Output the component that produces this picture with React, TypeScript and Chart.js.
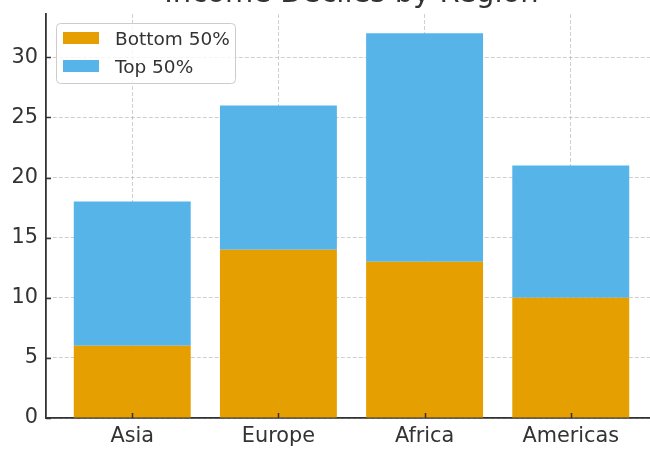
import { useEffect, useRef } from "react";
import { Chart, registerables } from "chart.js";

Chart.register(...registerables);

// Data
const regions = ["Asia", "Europe", "Africa", "Americas"];
const bottomHalf = [6, 14, 13, 10];
const topHalf = [12, 12, 19, 11];
const yTicks = [0, 5, 10, 15, 20, 25, 30];
const seriesLabels = ["Bottom 50%", "Top 50%"];
const seriesColors = ["#E69F00", "#56B4E9"];
const titleText = "Income Deciles by Region";

const FONT = "'DejaVu Sans', sans-serif";
const INK = "#333333";
const GRID = "rgba(176,176,176,0.6)";

// Title drawn above the plot area (the canvas top trims its upper part)
const titlePlugin = {
  id: "plotTitle",
  afterDraw(chart: any) {
    const { ctx, chartArea } = chart;
    ctx.save();
    ctx.font = `29px ${FONT}`;
    ctx.fillStyle = INK;
    ctx.textAlign = "center";
    ctx.textBaseline = "alphabetic";
    ctx.fillText(titleText, (chartArea.left + chartArea.right) / 2, chartArea.top - 12);
    ctx.restore();
  },
};

// Short tick marks pointing into the plot area
const innerTicksPlugin = {
  id: "innerTicks",
  afterDatasetsDraw(chart: any) {
    const { ctx, chartArea, scales } = chart;
    const len = 5;
    ctx.save();
    ctx.strokeStyle = INK;
    ctx.lineWidth = 1.5;
    ctx.beginPath();
    scales.x.ticks.forEach((t: any) => {
      const px = Math.round(scales.x.getPixelForValue(t.value)) + 0.5;
      ctx.moveTo(px, chartArea.bottom);
      ctx.lineTo(px, chartArea.bottom - len);
    });
    scales.y.ticks.forEach((t: any) => {
      const py = Math.round(scales.y.getPixelForValue(t.value)) + 0.5;
      ctx.moveTo(chartArea.left, py);
      ctx.lineTo(chartArea.left + len, py);
    });
    ctx.stroke();
    ctx.restore();
  },
};

// Legend box in the upper-left corner of the plot
const legendPlugin = {
  id: "cornerLegend",
  afterDraw(chart: any) {
    const { ctx, chartArea } = chart;
    const x0 = chartArea.left + 10;
    const y0 = chartArea.top + 9;
    const w = 179;
    const h = 60;
    ctx.save();
    ctx.beginPath();
    ctx.roundRect(x0 + 0.5, y0 + 0.5, w, h, 4);
    ctx.fillStyle = "rgba(255,255,255,0.8)";
    ctx.fill();
    ctx.strokeStyle = "#cccccc";
    ctx.lineWidth = 1;
    ctx.stroke();
    ctx.font = `18.5px ${FONT}`;
    ctx.textAlign = "left";
    ctx.textBaseline = "alphabetic";
    chart.data.datasets.forEach((ds: any, i: number) => {
      const rowY = y0 + 9 + i * 28;
      ctx.fillStyle = ds.backgroundColor;
      ctx.fillRect(x0 + 7, rowY, 36, 12);
      ctx.fillStyle = INK;
      ctx.fillText(ds.label, x0 + 59, rowY + 13);
    });
    ctx.restore();
  },
};

const tickFont = { family: FONT, size: 20.8 };

export default function App() {
  const canvasRef = useRef<HTMLCanvasElement | null>(null);

  useEffect(() => {
    document.body.style.margin = "0";
    const canvas = canvasRef.current;
    if (!canvas) return;

    const chart = new Chart(canvas, {
      type: "bar",
      data: {
        datasets: [
          {
            label: seriesLabels[0],
            data: bottomHalf.map((v, i) => ({ x: i, y: v })),
            backgroundColor: seriesColors[0],
            borderWidth: 0,
            categoryPercentage: 0.8,
            barPercentage: 1,
          },
          {
            label: seriesLabels[1],
            data: topHalf.map((v, i) => ({ x: i, y: v })),
            backgroundColor: seriesColors[1],
            borderWidth: 0,
            categoryPercentage: 0.8,
            barPercentage: 1,
          },
        ],
      },
      options: {
        responsive: false,
        animation: false,
        devicePixelRatio: 1,
        layout: { padding: { top: 14, right: 43, left: 0, bottom: 0 } },
        plugins: {
          legend: { display: false },
          title: { display: false },
          tooltip: { enabled: false },
        },
        scales: {
          x: {
            type: "linear",
            min: -0.59,
            max: 3.59,
            offset: false,
            stacked: true,
            z: 1,
            afterBuildTicks: (s: any) => {
              s.ticks = regions.map((_, i) => ({ value: i }));
            },
            afterFit: (s: any) => {
              s.height = 32;
              s.paddingLeft = 0;
              s.paddingRight = 0;
            },
            ticks: {
              font: tickFont,
              color: INK,
              padding: 6,
              maxRotation: 0,
              autoSkip: false,
              callback: (v: any) => regions[v as number] ?? "",
            },
            grid: {
              color: GRID,
              lineWidth: 1,
              offset: false,
              drawTicks: false,
            },
            border: { display: true, color: INK, width: 1.8, dash: [4, 2] },
          },
          y: {
            type: "linear",
            min: 0,
            max: 33.6,
            stacked: true,
            z: 1,
            afterBuildTicks: (s: any) => {
              s.ticks = yTicks.map((v) => ({ value: v }));
            },
            afterFit: (s: any) => {
              s.width = 46;
              s.paddingTop = 0;
              s.paddingBottom = 0;
            },
            ticks: {
              font: tickFont,
              color: INK,
              padding: 8,
            },
            grid: {
              color: GRID,
              lineWidth: 1,
              drawTicks: false,
            },
            border: { display: true, color: INK, width: 1.8, dash: [4, 2] },
          },
        },
      },
      plugins: [titlePlugin, innerTicksPlugin, legendPlugin],
    } as any);

    return () => chart.destroy();
  }, []);

  return (
    <div style={{ width: 650, height: 450, overflow: "hidden", position: "relative" }}>
      <canvas
        ref={canvasRef}
        width={700}
        height={450}
        style={{ display: "block", width: 700, height: 450 }}
      />
    </div>
  );
}
